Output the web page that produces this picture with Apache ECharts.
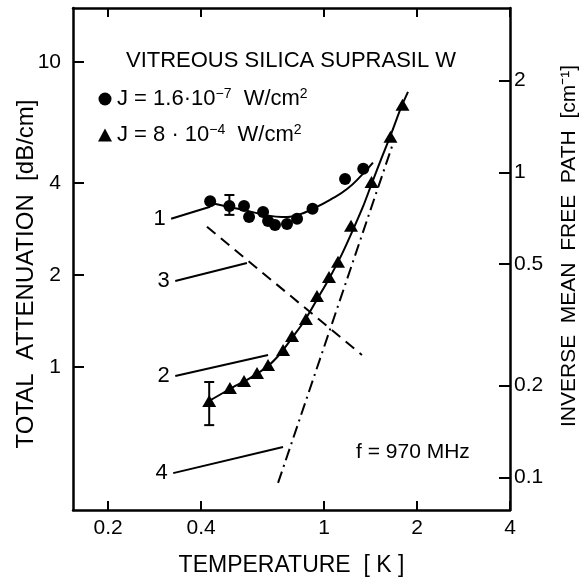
<!DOCTYPE html>
<html>
<head>
<meta charset="utf-8">
<script src="https://cdn.jsdelivr.net/npm/echarts@6/dist/echarts.min.js"></script>
<style>
  html, body { margin: 0; padding: 0; background: #fff; }
  #chart { width: 582px; height: 577px; }
</style>
</head>
<body>
<div id="chart"></div>
<script>
// circles: J = 1.6e-7 W/cm2
var tempCircle = [0.428, 0.494, 0.551, 0.572, 0.635, 0.659, 0.694, 0.759, 0.818, 0.918, 1.17, 1.34]
var attCircle = [3.49, 3.37, 3.37, 3.10, 3.22, 3.01, 2.92, 2.94, 3.06, 3.30, 4.13, 4.46]
// triangles: J = 8e-4 W/cm2
var tempTri = [0.425, 0.496, 0.551, 0.607, 0.659, 0.737, 0.788, 0.874, 0.949, 1.038, 1.110, 1.223, 1.425, 1.641, 1.795]
var attTri = [0.774, 0.853, 0.900, 0.956, 1.015, 1.137, 1.264, 1.437, 1.709, 1.973, 2.210, 2.90, 4.04, 5.68, 7.23]
// error bars [T, low, high]
var errBars = [[0.494, 3.15, 3.66], [0.425, 0.645, 0.893]]
// fitted curves
var curve1T = [0.428, 0.489, 0.563, 0.644, 0.731, 0.824, 0.921, 1.046, 1.187, 1.327, 1.44]
var curve1A = [3.45, 3.35, 3.25, 3.15, 3.10, 3.15, 3.30, 3.53, 3.83, 4.26, 4.67]
var curve2T = [0.425, 0.496, 0.576, 0.659, 0.720, 0.788, 0.868, 0.956, 1.046, 1.144, 1.241, 1.337, 1.430, 1.541, 1.660, 1.775, 1.870]
var curve2A = [0.774, 0.847, 0.920, 1.008, 1.103, 1.245, 1.426, 1.684, 1.973, 2.347, 2.813, 3.35, 4.01, 4.88, 5.90, 7.07, 7.97]
var line3T = [0.418, 1.327]
var line3A = [2.88, 1.095]
var line4T = [0.710, 1.688]
var line4A = [0.417, 5.55]
// leader lines for curve numbers: [label, T start, A start, T end, A end]
var leaders = [
    ['1', 0.320, 3.06, 0.428, 3.35],
    ['2', 0.330, 0.934, 0.659, 1.095],
    ['3', 0.330, 1.914, 0.563, 2.19],
    ['4', 0.325, 0.449, 0.737, 0.547]
]
// ticks
var xTicks = [0.2, 0.4, 1, 2, 4]
var leftTicks = [1, 2, 4, 10]
var rightTicks = [0.1, 0.2, 0.5, 1, 2]
var dbPerInvPath = 4.343

var lg = Math.log10
function pts(xs, ys) {
    return xs.map(function (x, i) { return [lg(x), lg(ys[i])] })
}
function fmt(v) { return String(Number(Math.pow(10, v).toPrecision(3))) }

var FONT = 'Liberation Sans'
var xMin = lg(0.154), xMax = lg(4)
var yMin = lg(0.34), yMax = lg(15.0)

var axisLineStyle = { color: '#000', width: 2.5 }
var tickStyle = { color: '#000', width: 2 }
var lblStyle = { fontSize: 21, color: '#000', fontFamily: FONT }

var chart = echarts.init(document.getElementById('chart'))

var series = [
    {
        name: 'fit1', type: 'line', data: pts(curve1T, curve1A), smooth: true,
        symbol: 'none', lineStyle: { color: '#000', width: 2 }, z: 2
    },
    {
        name: 'fit2', type: 'line', data: pts(curve2T, curve2A), smooth: 0.3,
        symbol: 'none', lineStyle: { color: '#000', width: 2 }, z: 2
    },
    {
        name: 'line3', type: 'line', data: pts(line3T, line3A),
        symbol: 'none', lineStyle: { color: '#000', width: 2, type: [11, 7] }
    },
    {
        name: 'line4', type: 'line', data: pts(line4T, line4A),
        symbol: 'none', lineStyle: { color: '#000', width: 2, type: [12, 5, 2, 5] }
    },
    {
        name: 'circle', type: 'scatter', data: pts(tempCircle, attCircle),
        symbol: 'circle', symbolSize: 12, itemStyle: { color: '#000', opacity: 1 }, z: 4
    },
    {
        name: 'triangle', type: 'scatter', data: pts(tempTri, attTri),
        symbol: 'triangle', symbolSize: [14, 12], itemStyle: { color: '#000', opacity: 1 }, z: 4
    },
    {
        name: 'err', type: 'custom',
        data: errBars.map(function (e) { return [lg(e[0]), lg(e[1]), lg(e[2])] }),
        renderItem: function (params, api) {
            var lo = api.coord([api.value(0), api.value(1)])
            var hi = api.coord([api.value(0), api.value(2)])
            var w = 5
            var st = { stroke: '#000', lineWidth: 2 }
            return {
                type: 'group',
                children: [
                    { type: 'line', shape: { x1: lo[0], y1: lo[1], x2: hi[0], y2: hi[1] }, style: st },
                    { type: 'line', shape: { x1: lo[0] - w, y1: lo[1], x2: lo[0] + w, y2: lo[1] }, style: st },
                    { type: 'line', shape: { x1: hi[0] - w, y1: hi[1], x2: hi[0] + w, y2: hi[1] }, style: st }
                ]
            }
        },
        z: 5
    },
    {
        name: 'nums', type: 'scatter',
        data: leaders.map(function (l) { return [lg(l[1]), lg(l[2]), l[0]] }),
        symbolSize: 1, itemStyle: { color: '#fff', opacity: 1 },
        label: {
            show: true, position: 'left', distance: 5,
            formatter: function (p) { return p.value[2] },
            color: '#000', fontSize: 22, fontFamily: FONT
        }
    }
]
leaders.forEach(function (l, i) {
    series.push({
        name: 'leader' + i, type: 'line',
        data: [[lg(l[1]), lg(l[2])], [lg(l[3]), lg(l[4])]],
        symbol: 'none', lineStyle: { color: '#000', width: 2 }
    })
})

var richLegend = {
    sup: { fontSize: 14, fontFamily: FONT, color: '#000', verticalAlign: 'top', lineHeight: 24 },
    n: { fontSize: 22, fontFamily: FONT, color: '#000', lineHeight: 24 }
}

chart.setOption({
    animation: false,
    backgroundColor: '#fff',
    title: [
        {
            text: 'VITREOUS SILICA SUPRASIL W', left: 'center', top: 45,
            textStyle: { fontSize: 22, fontWeight: 'normal', color: '#000', fontFamily: FONT }
        },
        {
            text: 'f = 970 MHz', left: 351, top: 437,
            textStyle: { fontSize: 21, fontWeight: 'normal', color: '#000', fontFamily: FONT }
        }
    ],
    legend: {
        orient: 'vertical', left: 93, top: 82,
        itemWidth: 14, itemHeight: 13, itemGap: 13,
        data: [{ name: 'circle', icon: 'circle' }, { name: 'triangle', icon: 'triangle' }],
        formatter: function (name) {
            if (name === 'circle') return '{n|J = 1.6·10}{sup|−7}{n|  W/cm}{sup|2}'
            return '{n|J = 8 · 10}{sup|−4}{n|  W/cm}{sup|2}'
        },
        textStyle: { rich: richLegend },
        selectedMode: false
    },
    grid: { left: 73, right: 72, top: 8, bottom: 67, outerBoundsMode: 'none', containLabel: false },
    xAxis: [
        {
            type: 'value', position: 'bottom', min: xMin, max: xMax,
            name: 'TEMPERATURE  [ K ]', nameLocation: 'middle', nameGap: 44, nameMoveOverlap: false,
            nameTextStyle: { fontSize: 23, color: '#000', fontFamily: FONT },
            axisLine: { show: true, onZero: false, lineStyle: axisLineStyle },
            axisTick: { show: true, inside: true, length: 9, lineStyle: tickStyle, customValues: xTicks.map(lg) },
            axisLabel: Object.assign({ show: true, customValues: xTicks.map(lg), formatter: fmt, margin: 8 }, lblStyle),
            splitLine: { show: false }
        },
        {
            type: 'value', position: 'top', min: xMin, max: xMax,
            axisLine: { show: true, onZero: false, lineStyle: axisLineStyle },
            axisTick: { show: true, inside: true, length: 9, lineStyle: tickStyle, customValues: xTicks.map(lg) },
            axisLabel: { show: false },
            splitLine: { show: false }
        }
    ],
    yAxis: [
        {
            type: 'value', position: 'left', min: yMin, max: yMax,
            name: 'TOTAL  ATTENUATION  [dB/cm]', nameLocation: 'middle', nameGap: 35, nameRotate: 90,
            nameMoveOverlap: false,
            nameTextStyle: { fontSize: 24, color: '#000', fontFamily: FONT, padding: [0, 30, 0, 0] },
            axisLine: { show: true, onZero: false, lineStyle: axisLineStyle },
            axisTick: { show: true, inside: true, length: 11, lineStyle: tickStyle, customValues: leftTicks.map(lg) },
            axisLabel: Object.assign({ show: true, customValues: leftTicks.map(lg), formatter: fmt, margin: 12 }, lblStyle),
            splitLine: { show: false }
        },
        {
            type: 'value', position: 'right',
            min: yMin - lg(dbPerInvPath), max: yMax - lg(dbPerInvPath),
            name: 'INVERSE  MEAN  FREE  PATH  [cm⁻¹]', nameLocation: 'middle', nameGap: 49, nameRotate: 90,
            nameTextStyle: { fontSize: 21, color: '#000', fontFamily: FONT, padding: [0, 0, 0, 26] },
            axisLine: { show: true, onZero: false, lineStyle: axisLineStyle },
            axisTick: { show: true, inside: true, length: 11, lineStyle: tickStyle, customValues: rightTicks.map(lg) },
            axisLabel: Object.assign({ show: true, customValues: rightTicks.map(lg), formatter: fmt, margin: 4 }, lblStyle),
            splitLine: { show: false }
        }
    ],
    series: series
})
</script>
</body>
</html>
